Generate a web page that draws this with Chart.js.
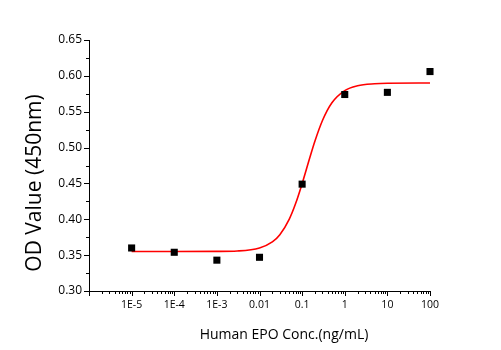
<!DOCTYPE html>
<html>
<head>
<meta charset="utf-8">
<script src="https://cdn.jsdelivr.net/npm/chart.js@4.4.1/dist/chart.umd.min.js"></script>
<style>
  html, body { margin: 0; padding: 0; background: #fff; }
  #wrap { width: 501px; height: 350px; }
</style>
</head>
<body>
<div id="wrap"><canvas id="epo"></canvas></div>
<script>
  // measured OD at each EPO concentration (ng/mL)
  const concentrations = [1e-5, 1e-4, 1e-3, 0.01, 0.1, 1, 10, 100];
  const odValues = [0.360, 0.354, 0.343, 0.347, 0.449, 0.574, 0.577, 0.606];

  // fitted dose-response curve, sampled along the x range
  const fitConc = [1e-5, 1e-4, 1e-3, 0.003, 0.01, 0.02, 0.03, 0.05, 0.07, 0.1, 0.15, 0.2, 0.3, 0.5, 1, 2, 5, 10, 100];
  const fitOD = [0.355, 0.355, 0.3552, 0.3558, 0.360, 0.3684, 0.3785, 0.4003, 0.4216, 0.4497, 0.4851, 0.5092, 0.5378, 0.5625, 0.5795, 0.5862, 0.589, 0.5897, 0.590];

  const xTickLabels = ['1E-5', '1E-4', '1E-3', '0.01', '0.1', '1', '10', '100'];
  const yTicks = [0.30, 0.35, 0.40, 0.45, 0.50, 0.55, 0.60, 0.65];

  const FONT = "'Open Sans', 'DejaVu Sans', sans-serif";

  const isDecade = v => Math.abs(Math.log10(v) - Math.round(Math.log10(v))) < 1e-9;

  // short outward ticks, longer on the labelled values; axis titles
  const tickMarks = {
    id: 'tickMarks',
    afterDraw(chart) {
      const ctx = chart.ctx;
      const x = chart.scales.x, y = chart.scales.y;
      ctx.save();
      ctx.strokeStyle = '#000';
      ctx.lineWidth = 1;
      ctx.beginPath();
      x.ticks.forEach(t => {
        const px = Math.round(x.getPixelForValue(t.value)) + 0.5;
        const len = t.major ? 5 : 3;
        ctx.moveTo(px, x.top);
        ctx.lineTo(px, x.top + len);
      });
      y.ticks.forEach(t => {
        const py = Math.round(y.getPixelForValue(t.value)) + 0.5;
        const len = t.major ? 5 : 3;
        ctx.moveTo(y.right, py);
        ctx.lineTo(y.right - len, py);
      });
      ctx.stroke();

      ctx.fillStyle = '#000';
      ctx.textAlign = 'center';
      ctx.textBaseline = 'middle';
      ctx.font = '14px ' + FONT;
      ctx.fillText('Human EPO Conc.(ng/mL)', 284, 335);
      ctx.translate(35, 183);
      ctx.rotate(-Math.PI / 2);
      ctx.font = '21px ' + FONT;
      ctx.fillText('OD Value (450nm)', 0, 0);
      ctx.restore();
    }
  };

  new Chart(document.getElementById('epo'), {
    type: 'scatter',
    data: {
      datasets: [
        {
          label: 'Fit',
          data: fitConc.map((c, i) => ({ x: c, y: fitOD[i] })),
          showLine: true,
          borderColor: '#ff0000',
          borderWidth: 1.6,
          pointRadius: 0,
          cubicInterpolationMode: 'monotone',
          order: 2
        },
        {
          label: 'OD',
          data: concentrations.map((c, i) => ({ x: c, y: odValues[i] })),
          pointStyle: 'rect',
          pointRadius: 5,
          pointBackgroundColor: '#000',
          pointBorderColor: '#000',
          pointBorderWidth: 0,
          showLine: false,
          clip: false,
          order: 1
        }
      ]
    },
    options: {
      responsive: true,
      maintainAspectRatio: false,
      animation: false,
      layout: { padding: { left: 0, top: 40, right: 71, bottom: 0 } },
      plugins: { legend: { display: false }, tooltip: { enabled: false } },
      scales: {
        x: {
          type: 'logarithmic',
          min: 1e-6,
          max: 100,
          afterBuildTicks(scale) {
            const ticks = [];
            for (let k = -6; k <= 1; k++) {
              for (let m = 1; m <= 9; m++) {
                ticks.push({ value: Number((m * Math.pow(10, k)).toPrecision(3)), major: m === 1 });
              }
            }
            ticks.push({ value: 100, major: true });
            scale.ticks = ticks;
          },
          afterFit(scale) { scale.height = 59; },
          border: { display: true, color: '#000', width: 1 },
          grid: { display: true, drawOnChartArea: false, drawTicks: false },
          ticks: {
            autoSkip: false,
            maxRotation: 0,
            padding: 8,
            color: '#000',
            font: { family: FONT, size: 10.5 },
            callback(v) {
              if (!isDecade(v)) return '';
              const idx = Math.round(Math.log10(v)) + 5;
              return xTickLabels[idx] || '';
            }
          }
        },
        y: {
          min: 0.30,
          max: 0.65,
          afterBuildTicks(scale) {
            const ticks = [];
            yTicks.forEach((v, i) => {
              ticks.push({ value: v, major: true });
              if (i < yTicks.length - 1) ticks.push({ value: +(v + 0.025).toFixed(3), major: false });
            });
            scale.ticks = ticks;
          },
          afterFit(scale) { scale.width = 89; },
          border: { display: true, color: '#000', width: 1 },
          grid: { display: true, drawOnChartArea: false, drawTicks: false },
          ticks: {
            autoSkip: false,
            padding: 7,
            color: '#000',
            font: { family: FONT, size: 12 },
            callback(v) {
              return yTicks.some(t => Math.abs(t - v) < 1e-6) ? v.toFixed(2) : '';
            }
          }
        }
      }
    },
    plugins: [tickMarks]
  });
</script>
</body>
</html>
